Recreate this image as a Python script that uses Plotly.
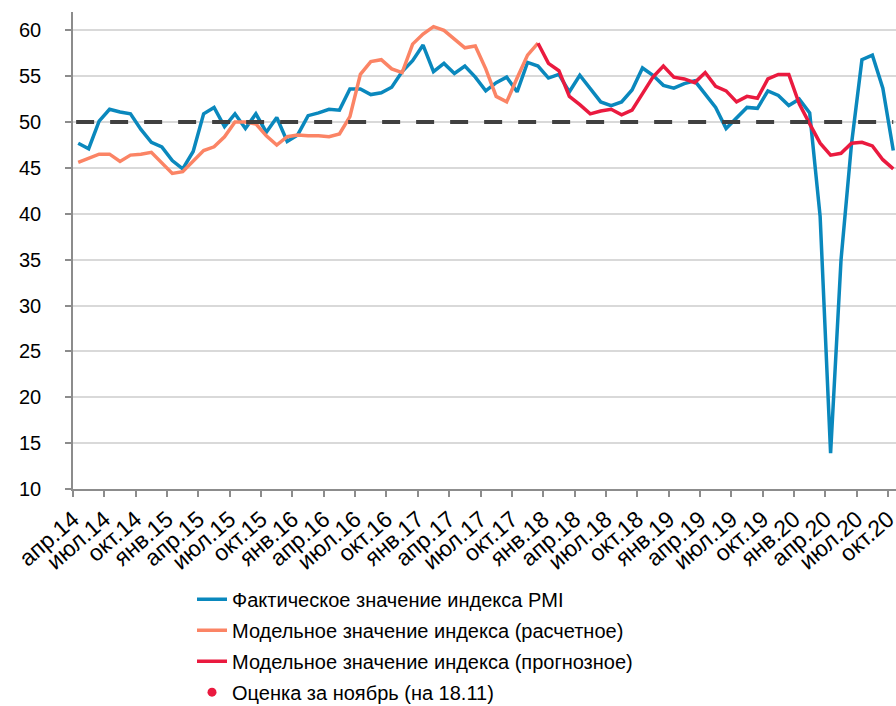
import plotly.graph_objects as go

# Monthly values, апр.14 ... окт.20 (79 months)
months_count = 79
tick_labels = ["апр.14", "июл.14", "окт.14", "янв.15", "апр.15", "июл.15", "окт.15",
               "янв.16", "апр.16", "июл.16", "окт.16", "янв.17", "апр.17", "июл.17",
               "окт.17", "янв.18", "апр.18", "июл.18", "окт.18", "янв.19", "апр.19",
               "июл.19", "окт.19", "янв.20", "апр.20", "июл.20", "окт.20"]

pmi_actual = [47.7, 47.1, 50.1, 51.4, 51.1, 50.9, 49.2, 47.8, 47.3, 45.8,
              44.9, 46.8, 50.9, 51.6, 49.5, 50.9, 49.3, 50.9, 48.9, 50.5,
              47.9, 48.6, 50.7, 51.0, 51.4, 51.3, 53.6, 53.6, 53.0, 53.2,
              53.8, 55.5, 56.7, 58.4, 55.5, 56.4, 55.3, 56.1, 54.9, 53.4,
              54.3, 54.9, 53.3, 56.5, 56.1, 54.8, 55.2, 53.3, 55.1, 53.6,
              52.2, 51.8, 52.2, 53.5, 55.9, 55.1, 54.0, 53.7, 54.2, 54.5,
              53.1, 51.6, 49.3, 50.4, 51.6, 51.5, 53.4, 52.9, 51.8, 52.5,
              51.0, 39.7, 13.9, 35.0, 47.6, 56.8, 57.3, 53.7, 46.9]

# model (calculated): апр.14 ... дек.17
model_calc = [45.6, 46.1, 46.5, 46.5, 45.7, 46.4, 46.5, 46.7, 45.5, 44.4,
              44.6, 45.7, 46.9, 47.3, 48.4, 50.0, 50.0, 49.8, 48.5, 47.5,
              48.4, 48.6, 48.5, 48.5, 48.4, 48.7, 50.6, 55.2, 56.6, 56.8,
              55.8, 55.4, 58.5, 59.6, 60.4, 60.0, 59.1, 58.1, 58.3, 55.8,
              52.8, 52.2, 54.8, 57.3, 58.6]

# model (forecast): дек.17 ... окт.20
model_fcst = [58.6, 56.4, 55.6, 52.8, 51.9, 50.9, 51.2, 51.4, 50.8, 51.3,
              53.1, 54.9, 56.1, 54.9, 54.7, 54.3, 55.4, 53.9, 53.4, 52.2,
              52.8, 52.6, 54.7, 55.2, 55.2, 52.0, 49.8, 47.7, 46.4, 46.6,
              47.7, 47.8, 47.4, 45.9, 44.9]
fcst_start = 44  # index of дек.17

# November estimate: the point lies outside the visible (cropped) area, value not readable
nov_estimate_x = [79.5]
nov_estimate_y = [None]

threshold = 50

x_all = [i + 0.5 for i in range(months_count)]
x_calc = x_all[:len(model_calc)]
x_fcst = x_all[fcst_start:fcst_start + len(model_fcst)]

BLUE = "#0A88BD"
ORANGE = "#FB8465"
RED = "#EA1A3F"
FONT = "Liberation Sans, Arial"

fig = go.Figure()
fig.add_trace(go.Scatter(x=x_all, y=pmi_actual, mode="lines",
                         line=dict(color=BLUE, width=3.5), legendgroup="a",
                         name="Фактическое значение индекса PMI"))
fig.add_trace(go.Scatter(x=x_calc, y=model_calc, mode="lines",
                         line=dict(color=ORANGE, width=3.5), legendgroup="b",
                         name="Модельное значение индекса (расчетное)"))
fig.add_trace(go.Scatter(x=x_fcst, y=model_fcst, mode="lines",
                         line=dict(color=RED, width=3.5), legendgroup="c",
                         name="Модельное значение индекса (прогнозное)"))
fig.add_trace(go.Scatter(x=nov_estimate_x, y=nov_estimate_y, mode="markers",
                         marker=dict(color=RED, size=9), legendgroup="d",
                         name="Оценка за ноябрь (на 18.11)"))

fig.add_shape(type="line", xref="x", yref="y",
              x0=x_all[0] - 0.2, x1=x_all[-1], y0=threshold, y1=threshold,
              line=dict(color="#404040", width=4, dash="18px,16px"), layer="above")

fig.update_xaxes(range=[0, 78.76], tickmode="array",
                 tickvals=[3 * k for k in range(len(tick_labels))],
                 ticktext=tick_labels, tickangle=-41,
                 showgrid=False, showline=True, linecolor="#8C8C8C", linewidth=1.5,
                 ticks="outside", ticklen=6, tickcolor="#8C8C8C", tickwidth=1.5,
                 tickfont=dict(family=FONT, size=23, color="#000000"),
                 ticklabeloverflow="allow",
                 zeroline=False, automargin=False)
fig.update_yaxes(range=[10, 62], tickmode="linear", tick0=10, dtick=5,
                 showgrid=True, gridcolor="#D9D9D9", gridwidth=1.5,
                 showline=True, linecolor="#8C8C8C", linewidth=1.5,
                 ticks="outside", ticklen=6, tickcolor="#8C8C8C", tickwidth=1.5,
                 tickfont=dict(family=FONT, size=20, color="#000000"),
                 ticklabelstandoff=20,
                 zeroline=False, automargin=False)

fig.update_layout(
    width=896, height=706,
    margin=dict(l=73, r=0, t=12, b=217, autoexpand=False),
    plot_bgcolor="white", paper_bgcolor="white",
    font=dict(family=FONT, color="#000000"),
    legend=dict(orientation="v", x=0.1446, xanchor="left", y=-0.190, yanchor="top",
                font=dict(family=FONT, size=20, color="#000000"),
                bgcolor="rgba(0,0,0,0)", tracegroupgap=2, itemwidth=30),
    showlegend=True,
)

# remove the default page margin so the figure fills the 896x706 window exactly
fig.write_html("out.html", config={"displayModeBar": False},
               post_script="document.body.style.margin='0';document.body.style.overflow='hidden';")
